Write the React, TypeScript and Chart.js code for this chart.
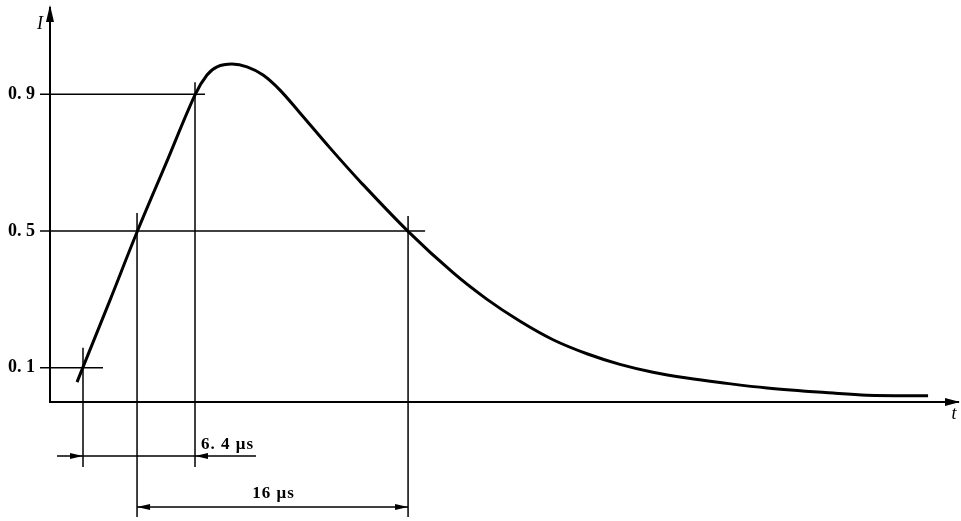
import React, { useEffect, useRef } from "react";
import { Chart, registerables } from "chart.js";

Chart.register(...registerables);

// Impulse current waveform (time in μs, current normalised)
const curveT = [1.58, 1.93, 3.51, 5.09, 6.78, 8.48, 9.18, 9.77, 10.64, 11.52, 12.46, 13.45, 14.62, 16.37, 18.13, 20.94, 23.57, 25.56, 27.49, 29.42, 31.4, 33.33, 35.26, 37.25, 39.18, 41.93, 45.79, 47.78, 51.35];
const curveI = [0.058, 0.102, 0.298, 0.497, 0.697, 0.898, 0.956, 0.98, 0.988, 0.98, 0.956, 0.912, 0.845, 0.743, 0.645, 0.499, 0.378, 0.3, 0.236, 0.182, 0.141, 0.11, 0.087, 0.07, 0.057, 0.041, 0.026, 0.02, 0.018];

// reference levels and their tick labels
const levels = [0.1, 0.5, 0.9];
const levelLabels = ["0. 1", "0. 5", "0. 9"];

// crossing times: t10, t50 (rise), t90, t50 (fall)
const markerTimes = [1.93, 5.09, 8.48, 20.94];
const dimLabels = ["6. 4 μs", "16 μs"];
const axisLabels = ["I", "t"];

const X_MAX = 53.1;
const Y_MAX = 1.152;

function arrowHead(ctx: CanvasRenderingContext2D, tipX: number, tipY: number, dir: "left" | "right" | "up", len: number, half: number) {
  ctx.beginPath();
  ctx.moveTo(tipX, tipY);
  if (dir === "right") {
    ctx.lineTo(tipX - len, tipY - half);
    ctx.lineTo(tipX - len, tipY + half);
  } else if (dir === "left") {
    ctx.lineTo(tipX + len, tipY - half);
    ctx.lineTo(tipX + len, tipY + half);
  } else {
    ctx.lineTo(tipX - half, tipY + len);
    ctx.lineTo(tipX + half, tipY + len);
  }
  ctx.closePath();
  ctx.fill();
}

const guidePlugin = {
  id: "guides",
  beforeDatasetsDraw(chart: any) {
    const ctx: CanvasRenderingContext2D = chart.ctx;
    const xs = chart.scales.x;
    const ys = chart.scales.y;
    const area = chart.chartArea;
    const [t10, t50r, t90, t50f] = markerTimes.map((t) => xs.getPixelForValue(t));
    const y10 = ys.getPixelForValue(levels[0]);
    const y50 = ys.getPixelForValue(levels[1]);
    const y90 = ys.getPixelForValue(levels[2]);
    const b = area.bottom;
    ctx.save();
    ctx.strokeStyle = "#000";
    ctx.fillStyle = "#000";
    ctx.lineWidth = 1.5;
    const line = (x1: number, y1: number, x2: number, y2: number) => {
      ctx.beginPath();
      ctx.moveTo(x1, y1);
      ctx.lineTo(x2, y2);
      ctx.stroke();
    };
    // horizontal level lines
    line(area.left - 10, y10, t10 + 20, y10);
    line(area.left - 10, y50, t50f + 17, y50);
    line(area.left - 10, y90, t90 + 10, y90);
    // vertical lines
    line(t10, y10 - 20, t10, b + 65);
    line(t50r, y50 - 18, t50r, b + 115);
    line(t90, y90 - 12, t90, b + 65);
    line(t50f, y50 - 15, t50f, b + 115);
    // 6.4 μs dimension
    const d1 = b + 54;
    line(t10 - 26, d1, t90 + 61, d1);
    arrowHead(ctx, t10, d1, "right", 13, 3);
    arrowHead(ctx, t90, d1, "left", 13, 3);
    // 16 μs dimension
    const d2 = b + 105;
    line(t50r, d2, t50f, d2);
    arrowHead(ctx, t50r, d2, "left", 13, 3);
    arrowHead(ctx, t50f, d2, "right", 13, 3);
    ctx.font = "bold 17px 'Liberation Serif', serif";
    (ctx as any).letterSpacing = "1px";
    ctx.textBaseline = "alphabetic";
    ctx.textAlign = "left";
    ctx.fillText(dimLabels[0], t90 + 6, b + 47);
    ctx.textAlign = "center";
    ctx.fillText(dimLabels[1], (t50r + t50f) / 2 + 1, b + 96);
    (ctx as any).letterSpacing = "0px";
    // axis arrows
    arrowHead(ctx, area.left, area.top - 3, "up", 17, 4);
    arrowHead(ctx, area.right + 2, b, "right", 15, 4);
    // axis names
    ctx.font = "italic 18px 'Liberation Serif', serif";
    ctx.textAlign = "center";
    ctx.textBaseline = "middle";
    ctx.fillText(axisLabels[0], area.left - 10, area.top + 16);
    ctx.fillText(axisLabels[1], area.right - 4, b + 12);
    ctx.restore();
  },
};

export default function App() {
  const ref = useRef<HTMLCanvasElement | null>(null);
  useEffect(() => {
    if (!ref.current) return;
    const chart = new Chart(ref.current, {
      type: "line",
      data: {
        datasets: [
          {
            data: curveT.map((t, i) => ({ x: t, y: curveI[i] })),
            borderColor: "#000",
            borderWidth: 3,
            pointRadius: 0,
            tension: 0.35,
            fill: false,
          },
        ],
      },
      options: {
        animation: false,
        responsive: false,
        devicePixelRatio: 1,
        layout: { padding: { top: 8, right: 3, left: 0, bottom: 0 } },
        plugins: { legend: { display: false }, tooltip: { enabled: false } },
        scales: {
          x: {
            type: "linear",
            min: 0,
            max: X_MAX,
            grid: { display: false, drawTicks: false },
            border: { display: true, color: "#000", width: 2 },
            ticks: { display: false },
            afterFit: (s: any) => {
              s.height = 119;
              s.paddingLeft = 0;
              s.paddingRight = 0;
            },
          },
          y: {
            type: "linear",
            min: 0,
            max: Y_MAX,
            grid: { display: false, drawTicks: false },
            border: { display: true, color: "#000", width: 2 },
            afterBuildTicks: (s: any) => {
              s.ticks = levels.map((v) => ({ value: v }));
            },
            ticks: {
              padding: 15,
              color: "#000",
              font: { family: "'Liberation Serif', serif", size: 18, weight: "bold" },
              callback: (v: any) => {
                const i = levels.findIndex((l) => Math.abs(l - Number(v)) < 1e-6);
                return i >= 0 ? levelLabels[i] : "";
              },
            },
            afterFit: (s: any) => {
              s.width = 50;
              s.paddingTop = 0;
              s.paddingBottom = 0;
            },
          },
        },
      },
      plugins: [guidePlugin],
    } as any);
    return () => chart.destroy();
  }, []);
  return (
    <div style={{ position: "fixed", left: 0, top: 0, width: 961, height: 521, background: "#fff" }}>
      <canvas ref={ref} width={961} height={521} />
    </div>
  );
}
